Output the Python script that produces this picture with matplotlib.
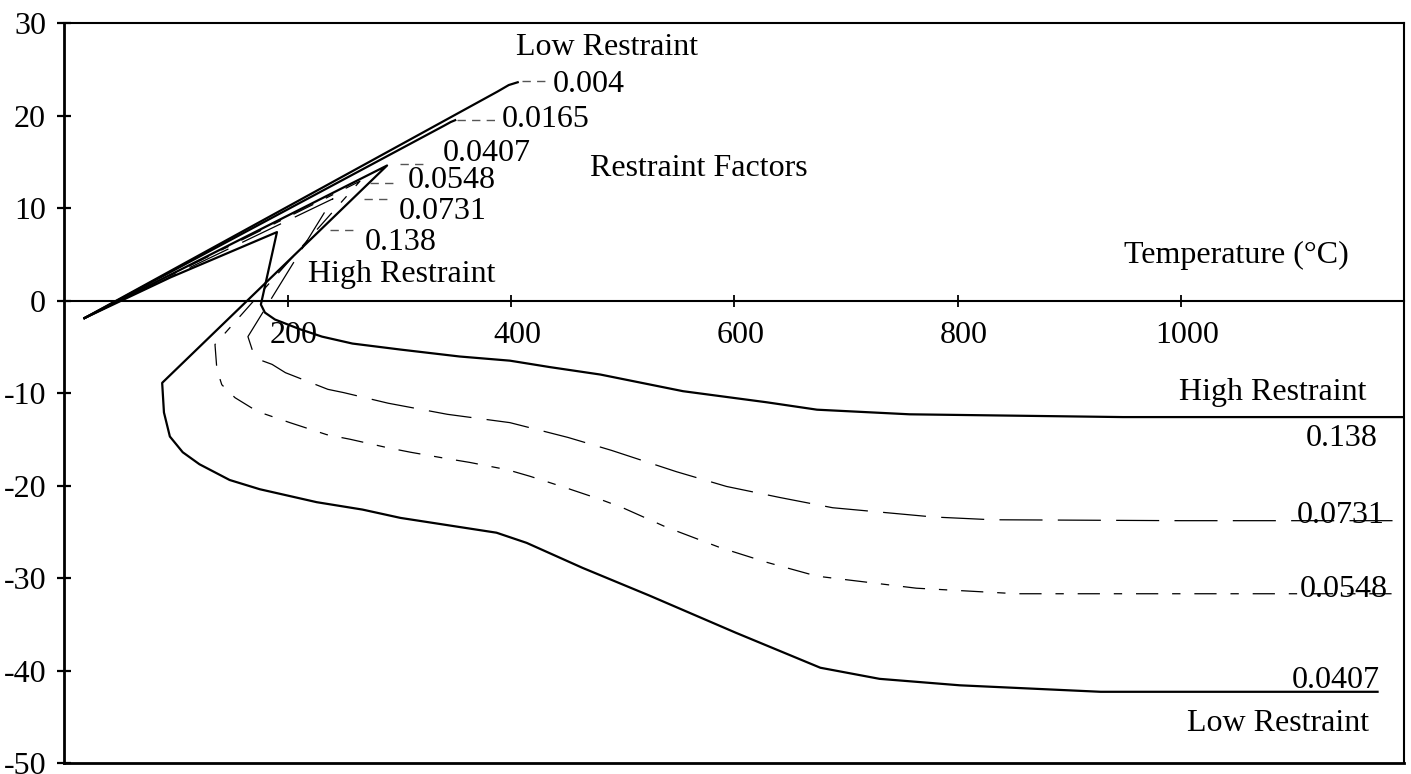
import matplotlib
matplotlib.use("Agg")
import matplotlib.pyplot as plt
import matplotlib.transforms as mtransforms

plt.rcParams["font.family"] = "Liberation Serif"
plt.rcParams["axes.unicode_minus"] = False
plt.rcParams["lines.scale_dashes"] = False

FONT = 23

# restraint factor curves (temperature degC, stress)
r0004_x = [18, 388, 398, 406]
r0004_y = [-1.9, 22.6, 23.3, 23.6]

r0165_x = [18, 340, 346, 350]
r0165_y = [-1.9, 18.9, 19.3, 19.5]

r0407_x = [18, 289, 87.6, 89.2, 94.5, 106, 121, 148, 175, 226, 267, 301, 387, 414,
           464, 524, 601, 677, 730, 802, 928, 1176]
r0407_y = [-1.9, 14.6, -8.9, -12.1, -14.7, -16.4, -17.7, -19.4, -20.4, -21.8, -22.6,
           -23.5, -25.1, -26.2, -28.9, -31.9, -35.9, -39.7, -40.9, -41.6, -42.3, -42.3]

r0548_x = [18, 264.7, 134.9, 136.6, 141, 152.8, 173, 202, 235, 256, 289, 310, 343, 363,
           397, 417, 448, 480, 500, 539, 587, 629, 674, 763, 853, 1200]
r0548_y = [-1.9, 12.9, -4.75, -7.45, -9.1, -10.5, -12.0, -13.2, -14.5, -15.0, -15.9,
           -16.4, -17.1, -17.5, -18.3, -19.0, -20.2, -21.5, -22.4, -24.5, -26.7,
           -28.3, -29.8, -31.1, -31.7, -31.7]

r0731_x = [18, 240.5, 164.4, 169, 177, 186, 198, 236, 250, 290, 343, 399, 451, 490,
           548, 593, 641, 688, 778, 831, 1000, 1200]
r0731_y = [-1.9, 11.0, -3.9, -5.6, -6.5, -6.9, -7.8, -9.6, -9.95, -11.1, -12.3, -13.2,
           -14.8, -16.2, -18.5, -20.1, -21.3, -22.4, -23.4, -23.7, -23.8, -23.8]

r0138_x = [18, 95, 190.4, 176, 179.6, 188.6, 211, 230.7, 258, 301, 354, 399, 435, 480,
           554, 629, 674, 757, 948, 1200]
r0138_y = [-1.9, 2.5, 7.4, -0.43, -1.3, -2.05, -3.1, -3.9, -4.65, -5.3, -6.05, -6.5,
           -7.2, -8.0, -9.8, -11.0, -11.8, -12.3, -12.6, -12.6]

# labels at the peaks, with dashed leaders
peak_labels = ["0.004", "0.0165", "0.0407", "0.0548", "0.0731", "0.138"]
peak_label_x = [437, 391.6, 339, 307.6, 299.6, 269]
peak_label_y = [22.6, 18.8, 15.05, 12.2, 8.85, 5.5]
leader_x0 = [410, 352, 300.5, 274, 268, 238]
leader_x1 = [433, 390, 323, 298, 289, 259]
leader_y = [23.7, 19.5, 14.8, 12.75, 10.95, 7.6]

# labels at the right end
end_labels = ["High Restraint", "0.138", "0.0731", "0.0548", "0.0407", "Low Restraint"]
end_label_x = [1166.4, 1176.3, 1182.6, 1185, 1178, 1168.3]
end_label_y = [-10.8, -15.7, -24.0, -32.0, -41.9, -46.5]

x_ticks = [200, 400, 600, 800, 1000]
y_ticks = [30, 20, 10, 0, -10, -20, -30, -40, -50]

fig = plt.figure(figsize=(14.11, 7.74), dpi=100)
ax = fig.add_axes([0.0456, 0.0142, 0.9497, 0.956])

thick = dict(color="black", lw=1.6, solid_joinstyle="round")
ax.plot(r0004_x, r0004_y, **thick)
ax.plot(r0165_x, r0165_y, **thick)
ax.plot(r0407_x, r0407_y, **thick)
ax.plot(r0138_x, r0138_y, **thick)
ax.plot(r0548_x, r0548_y, color="black", lw=0.9, dashes=(16, 10, 6, 10))
ax.plot(r0731_x, r0731_y, color="black", lw=0.9, dashes=(31, 11))

for x0, x1, y in zip(leader_x0, leader_x1, leader_y):
    ax.plot([x0, x1], [y, y], color="#555555", lw=1.0, dashes=(6, 4.5))
for lab, x, y in zip(peak_labels, peak_label_x, peak_label_y):
    ax.text(x, y, lab, fontsize=FONT, ha="left", va="baseline")
for lab, x, y in zip(end_labels, end_label_x, end_label_y):
    ax.text(x, y, lab, fontsize=FONT, ha="right", va="baseline")

ax.text(404.4, 26.5, "Low Restraint", fontsize=FONT, ha="left", va="baseline")
ax.text(470.7, 13.5, "Restraint Factors", fontsize=FONT, ha="left", va="baseline")
ax.text(218, 2.0, "High Restraint", fontsize=FONT, ha="left", va="baseline")
ax.text(1150.4, 4.1, "Temperature (\u00b0C)", fontsize=FONT, ha="right", va="baseline")

ax.set_xlim(0, 1200)
ax.set_ylim(-50, 30)
ax.set_xticks(x_ticks)
ax.set_yticks(y_ticks)
ax.set_xticklabels([str(t) for t in x_ticks])
ax.set_yticklabels([str(t) for t in y_ticks])

ax.spines["bottom"].set_position(("data", 0))
ax.spines["bottom"].set_linewidth(1.5)
ax.spines["left"].set_linewidth(2.0)
ax.spines["top"].set_linewidth(1.5)
ax.spines["right"].set_linewidth(1.5)
ax.axhline(-50, color="black", lw=2.0, clip_on=False)

ax.tick_params(axis="x", direction="inout", length=8.6, width=1.3, pad=10.5,
               labelsize=FONT)
ax.tick_params(axis="y", direction="inout", length=9.4, width=1.6, pad=8.5,
               labelsize=FONT)

# x labels sit a little right of their ticks, on a white patch
shift = mtransforms.ScaledTranslation(0.06, 0, fig.dpi_scale_trans)
for lab in ax.get_xticklabels():
    lab.set_transform(lab.get_transform() + shift)
    lab.set_bbox(dict(facecolor="white", edgecolor="none", boxstyle="square,pad=0.1"))

fig.savefig("out.png", dpi=100)
